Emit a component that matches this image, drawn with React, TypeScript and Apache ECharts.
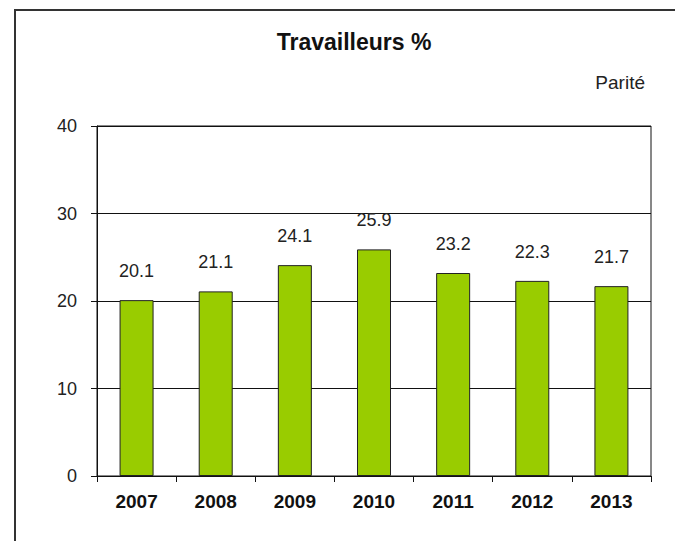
import React, { useEffect, useRef } from "react";
import * as echarts from "echarts";

const years = ["2007", "2008", "2009", "2010", "2011", "2012", "2013"];
const values = [20.1, 21.1, 24.1, 25.9, 23.2, 22.3, 21.7];
const titleText = "Travailleurs %";
const subText = "Parité";

export default function App() {
  const ref = useRef<HTMLDivElement>(null);
  useEffect(() => {
    if (!ref.current) return;
    const chart = echarts.init(ref.current, null, { renderer: "svg" });
    const font = "Liberation Sans, Arial, sans-serif";
    chart.setOption({
      animation: false,
      backgroundColor: "#fff",
      textStyle: { fontFamily: font },
      graphic: [
        {
          type: "rect",
          shape: { x: 15, y: 10, width: 720, height: 620 },
          style: { fill: "none", stroke: "#333", lineWidth: 2 },
          silent: true,
        },
        {
          type: "text",
          x: 354,
          y: 42,
          style: {
            text: titleText,
            font: `bold 23px ${font}`,
            fill: "#111",
            align: "center",
            verticalAlign: "middle",
          },
        },
        {
          type: "text",
          x: 645,
          y: 82,
          style: {
            text: subText,
            font: `19px ${font}`,
            fill: "#222",
            align: "right",
            verticalAlign: "middle",
          },
        },
      ],
      grid: {
        left: 97,
        top: 126,
        right: 24,
        bottom: 65,
        show: true,
        borderColor: "#111",
        borderWidth: 1,
        backgroundColor: "transparent",
      },
      xAxis: {
        type: "category",
        data: years,
        axisLine: { show: true, lineStyle: { color: "#111", width: 1 } },
        axisTick: { show: true, length: 6, alignWithLabel: false, lineStyle: { color: "#111" } },
        axisLabel: {
          color: "#111",
          fontSize: 19,
          fontWeight: "bold",
          margin: 16,
          fontFamily: font,
        },
        splitLine: { show: false },
      },
      yAxis: {
        type: "value",
        min: 0,
        max: 40,
        interval: 10,
        axisLine: { show: true, lineStyle: { color: "#111", width: 1 } },
        axisTick: { show: true, length: 6, lineStyle: { color: "#111" } },
        axisLabel: { color: "#222", fontSize: 18, margin: 20, fontFamily: font },
        splitLine: { show: true, lineStyle: { color: "#111", width: 1 } },
      },
      series: [
        {
          type: "bar",
          data: values,
          barWidth: 34,
          itemStyle: { color: "#99CC00", borderColor: "#222", borderWidth: 1 },
          label: {
            show: true,
            position: "top",
            distance: 20,
            color: "#222",
            fontSize: 18,
            fontFamily: font,
            formatter: (p: any) => p.value.toFixed(1),
          },
        },
      ],
    });
    return () => chart.dispose();
  }, []);
  return (
    <div
      ref={ref}
      style={{ position: "fixed", left: 0, top: 0, width: 675, height: 541 }}
    />
  );
}
